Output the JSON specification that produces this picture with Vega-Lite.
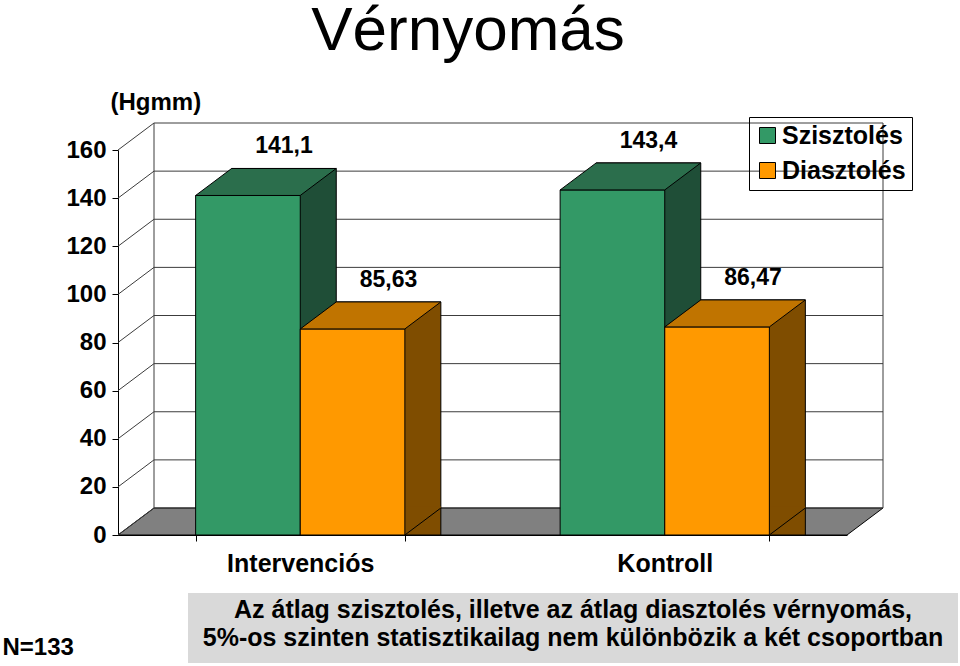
{
  "$schema": "https://vega.github.io/schema/vega-lite/v6.json",
  "padding": {"left": 2, "top": 0, "right": 0, "bottom": 0},
  "title": {"text": "Vérnyomás", "font": "Liberation Sans", "fontSize": 62, "fontWeight": "normal", "color": "black", "anchor": "middle", "dx": -12, "offset": -22, "baseline": "alphabetic"},
  "bounds": "flush",
  "spacing": 58,
  "config": {
    "view": {"stroke": null},
    "font": "Liberation Sans",
    "locale": {"number": {"decimal": ",", "thousands": " ", "grouping": [3], "currency": ["", " Ft"]}},
    "axisX": {"domainColor": "black", "domainWidth": 1, "tickColor": "black", "tickSize": 6, "tickBand": "extent", "labelFont": "Liberation Sans", "labelFontSize": 25, "labelFontWeight": "bold", "labelColor": "black", "labelPadding": 10, "labelAngle": 0, "grid": false, "titleFont": "Liberation Sans", "titleFontSize": 24, "titleFontWeight": "bold", "titleColor": "black", "titleX": -116, "titleY": 119, "titleAlign": "left", "titleBaseline": "alphabetic", "titleAngle": 0},
    "axisY": {"domainColor": "black", "domainWidth": 1, "tickColor": "black", "tickSize": 6, "labelFont": "Liberation Sans", "labelFontSize": 24, "labelFontWeight": "bold", "labelColor": "black", "labelPadding": 6, "grid": false, "titleFont": "Liberation Sans", "titleFontSize": 24, "titleFontWeight": "bold", "titleColor": "black", "titleAngle": 0, "titleX": -8, "titleY": -41, "titleAlign": "left", "titleBaseline": "alphabetic"},
    "legend": {"orient": "none", "legendX": 631, "legendY": -33, "strokeColor": "black", "padding": 6, "labelFont": "Liberation Sans", "labelFontSize": 25, "labelFontWeight": "bold", "labelColor": "black", "symbolType": "square", "symbolSize": 256, "symbolStrokeColor": "black", "symbolStrokeWidth": 1, "rowPadding": 9, "labelOffset": 2, "titleFontSize": 0}
  },
  "datasets": {
    "bars": [
      {"group": "Intervenciós", "series": "Szisztolés", "value": 141.1},
      {"group": "Intervenciós", "series": "Diasztolés", "value": 85.63},
      {"group": "Kontroll", "series": "Szisztolés", "value": 143.4},
      {"group": "Kontroll", "series": "Diasztolés", "value": 86.47}
    ],
    "grid": [
      {"tick": 0}, {"tick": 20}, {"tick": 40}, {"tick": 60}, {"tick": 80},
      {"tick": 100}, {"tick": 120}, {"tick": 140}, {"tick": 160}
    ],
    "note": [
      {"note": "Az átlag szisztolés, illetve az átlag diasztolés vérnyomás,\n5%-os szinten statisztikailag nem különbözik a két csoportban"}
    ]
  },
  "vconcat": [
    {
      "width": 729,
      "height": 385,
      "data": {"name": "bars"},
      "layer": [
        {
          "data": {"name": "grid"},
          "transform": [{"filter": "datum.tick === 0"}],
          "mark": {"type": "point", "shape": "M -364.5 0 L 364.5 0 L 400.5 -27 L -328.5 -27 Z", "size": 4, "filled": true, "fill": "#808080", "stroke": "black", "strokeWidth": 1, "opacity": 1},
          "encoding": {"y": {"field": "tick", "type": "quantitative", "scale": {"domain": [0, 160], "nice": false}, "title": "(Hgmm)"}}
        },
        {
          "data": {"name": "grid"},
          "mark": {"type": "point", "shape": "M -364.5 0 L -328.5 -27 L 400.5 -27", "size": 4, "filled": false, "stroke": "#3c3c3c", "strokeWidth": 1, "opacity": 1},
          "encoding": {"y": {"field": "tick", "type": "quantitative", "scale": {"domain": [0, 160], "nice": false}, "title": "(Hgmm)"}}
        },
        {
          "data": {"name": "grid"},
          "transform": [{"filter": "datum.tick === 0"}],
          "mark": {"type": "point", "shape": "M -328.5 -27 L -328.5 -412 M 400.5 -27 L 400.5 -412", "size": 4, "filled": false, "stroke": "#3c3c3c", "strokeWidth": 1, "opacity": 1},
          "encoding": {"y": {"field": "tick", "type": "quantitative", "scale": {"domain": [0, 160], "nice": false}, "title": "(Hgmm)"}}
        },
        {
          "transform": [{"filter": "datum.series === 'Szisztolés'"}],
          "mark": {"type": "bar", "fill": "#1f4e37", "stroke": "black", "strokeWidth": 1, "opacity": 1, "width": {"band": 0.5}, "xOffset": -16.3, "yOffset": -27, "y2Offset": -27},
          "encoding": {
            "x": {"field": "group", "type": "nominal", "scale": {"domain": ["Intervenciós", "Kontroll"], "paddingInner": 0.426, "paddingOuter": 0.213}, "title": "N=133"},
            "y": {"field": "value", "type": "quantitative", "scale": {"domain": [0, 160], "nice": false}, "title": "(Hgmm)", "stack": null}
          }
        },
        {
          "transform": [{"filter": "datum.series === 'Diasztolés'"}],
          "mark": {"type": "bar", "fill": "#7f4d00", "stroke": "black", "strokeWidth": 1, "opacity": 1, "width": {"band": 0.5}, "xOffset": 88.3, "yOffset": -27, "y2Offset": -27},
          "encoding": {
            "x": {"field": "group", "type": "nominal", "scale": {"domain": ["Intervenciós", "Kontroll"], "paddingInner": 0.426, "paddingOuter": 0.213}, "title": "N=133"},
            "y": {"field": "value", "type": "quantitative", "scale": {"domain": [0, 160], "nice": false}, "title": "(Hgmm)", "stack": null}
          }
        },
        {
          "transform": [{"filter": "datum.series === 'Diasztolés'"}],
          "mark": {"type": "point", "shape": "M 52.3 0 L 88.3 -27 L 88 -28.7 L 52 -28.7 Z", "size": 4, "filled": true, "fill": "#7f4d00", "strokeWidth": 0, "opacity": 1},
          "encoding": {
            "x": {"field": "group", "type": "nominal", "scale": {"domain": ["Intervenciós", "Kontroll"], "paddingInner": 0.426, "paddingOuter": 0.213}, "title": "N=133"},
            "xOffset": {"field": "series", "type": "nominal", "scale": {"domain": ["Szisztolés", "Diasztolés"], "paddingInner": 0, "paddingOuter": 0}},
            "y": {"datum": 0, "type": "quantitative", "scale": {"domain": [0, 160], "nice": false}, "title": "(Hgmm)"}
          }
        },
        {
          "transform": [{"filter": "datum.series === 'Diasztolés'"}],
          "mark": {"type": "point", "shape": "M 52.3 0 L 88.3 -27", "size": 4, "filled": false, "stroke": "black", "strokeWidth": 1, "opacity": 1},
          "encoding": {
            "x": {"field": "group", "type": "nominal", "scale": {"domain": ["Intervenciós", "Kontroll"], "paddingInner": 0.426, "paddingOuter": 0.213}, "title": "N=133"},
            "xOffset": {"field": "series", "type": "nominal", "scale": {"domain": ["Szisztolés", "Diasztolés"], "paddingInner": 0, "paddingOuter": 0}},
            "y": {"datum": 0, "type": "quantitative", "scale": {"domain": [0, 160], "nice": false}, "title": "(Hgmm)"}
          }
        },
        {
          "mark": {"type": "bar", "stroke": "black", "strokeWidth": 1, "opacity": 1},
          "encoding": {
            "x": {"field": "group", "type": "nominal", "scale": {"domain": ["Intervenciós", "Kontroll"], "paddingInner": 0.426, "paddingOuter": 0.213}, "title": "N=133"},
            "xOffset": {"field": "series", "type": "nominal", "scale": {"domain": ["Szisztolés", "Diasztolés"], "paddingInner": 0, "paddingOuter": 0}},
            "y": {"field": "value", "type": "quantitative", "scale": {"domain": [0, 160], "nice": false}, "title": "(Hgmm)", "stack": null},
            "color": {"field": "series", "type": "nominal", "scale": {"domain": ["Szisztolés", "Diasztolés"], "range": ["#339966", "#ff9900"]}, "legend": {"title": null}}
          }
        },
        {
          "transform": [{"filter": "datum.series === 'Szisztolés'"}],
          "mark": {"type": "point", "shape": "M -52.3 0 L 52.3 0 L 88.3 -27 L -16.3 -27 Z", "size": 4, "filled": true, "fill": "#2b6e4c", "stroke": "black", "strokeWidth": 1, "opacity": 1},
          "encoding": {
            "x": {"field": "group", "type": "nominal", "scale": {"domain": ["Intervenciós", "Kontroll"], "paddingInner": 0.426, "paddingOuter": 0.213}, "title": "N=133"},
            "xOffset": {"field": "series", "type": "nominal", "scale": {"domain": ["Szisztolés", "Diasztolés"], "paddingInner": 0, "paddingOuter": 0}},
            "y": {"field": "value", "type": "quantitative", "scale": {"domain": [0, 160], "nice": false}, "title": "(Hgmm)"}
          }
        },
        {
          "transform": [{"filter": "datum.series === 'Diasztolés'"}],
          "mark": {"type": "point", "shape": "M -52.3 0 L 52.3 0 L 88.3 -27 L -16.3 -27 Z", "size": 4, "filled": true, "fill": "#c07400", "stroke": "black", "strokeWidth": 1, "opacity": 1},
          "encoding": {
            "x": {"field": "group", "type": "nominal", "scale": {"domain": ["Intervenciós", "Kontroll"], "paddingInner": 0.426, "paddingOuter": 0.213}, "title": "N=133"},
            "xOffset": {"field": "series", "type": "nominal", "scale": {"domain": ["Szisztolés", "Diasztolés"], "paddingInner": 0, "paddingOuter": 0}},
            "y": {"field": "value", "type": "quantitative", "scale": {"domain": [0, 160], "nice": false}, "title": "(Hgmm)"}
          }
        },
        {
          "mark": {"type": "text", "font": "Liberation Sans", "fontSize": 23, "fontWeight": "bold", "color": "black", "align": "center", "baseline": "alphabetic", "dx": 36, "dy": -42},
          "encoding": {
            "x": {"field": "group", "type": "nominal", "scale": {"domain": ["Intervenciós", "Kontroll"], "paddingInner": 0.426, "paddingOuter": 0.213}, "title": "N=133"},
            "xOffset": {"field": "series", "type": "nominal", "scale": {"domain": ["Szisztolés", "Diasztolés"], "paddingInner": 0, "paddingOuter": 0}},
            "y": {"field": "value", "type": "quantitative", "scale": {"domain": [0, 160], "nice": false}, "title": "(Hgmm)"},
            "text": {"field": "value", "type": "quantitative", "format": "~g"}
          }
        }
      ]
    },
    {
      "width": 840,
      "height": 70,
      "data": {"name": "note"},
      "layer": [
        {
          "mark": {"type": "rect", "fill": "#d9d9d9"},
          "encoding": {
            "x": {"field": "note", "type": "nominal", "scale": {"paddingInner": 0, "paddingOuter": 0.04545, "align": 1}, "axis": null}
          }
        },
        {
          "mark": {"type": "text", "font": "Liberation Sans", "fontSize": 25, "fontWeight": "bold", "color": "black", "lineBreak": "\n", "lineHeight": 28, "align": "center", "baseline": "middle", "dy": -18},
          "encoding": {
            "x": {"field": "note", "type": "nominal", "scale": {"paddingInner": 0, "paddingOuter": 0.04545, "align": 1}, "axis": null},
            "text": {"field": "note", "type": "nominal"}
          }
        }
      ]
    }
  ]
}
